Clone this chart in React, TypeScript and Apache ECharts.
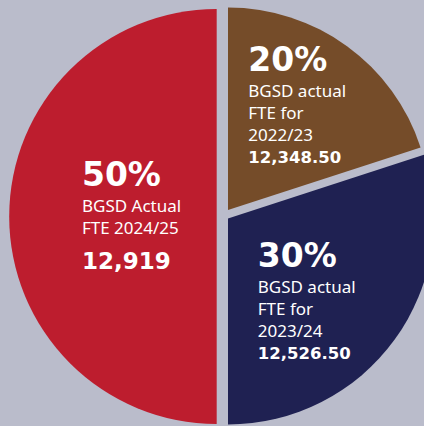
import React, { useEffect, useRef } from 'react';
import * as echarts from 'echarts';

const categories = ['2022/23', '2023/24', '2024/25'];
const shares = [20, 30, 50];
const fteValues = ['12,348.50', '12,526.50', '12,919'];
const descriptions = [
  ['BGSD actual', 'FTE for', '2022/23'],
  ['BGSD actual', 'FTE for', '2023/24'],
  ['BGSD Actual', 'FTE 2024/25'],
];
const colors = ['#754c29', '#1f2152', '#bd1d2e'];
const background = '#babccb';

// exploded-pie layout per slice (centre / radius of each slice, label shift)
const sliceLayout = [
  { center: [228, 210], radius: 202.5, dx: -41, dy: -86, valStyle: 'val' },
  { center: [228, 218.5], radius: 206, dx: -56, dy: -45, valStyle: 'val' },
  { center: [216.7, 216.5], radius: 207.5, dx: -28, dy: -62, valStyle: 'valL' },
];

const rich = {
  pct: { fontFamily: 'DejaVu Sans', fontWeight: 'bold', fontSize: 33, lineHeight: 40, color: '#ffffff' },
  txt: { fontFamily: 'Noto Sans', fontSize: 17, lineHeight: 22, color: '#ffffff' },
  val: { fontFamily: 'DejaVu Sans', fontWeight: 'bold', fontSize: 16.5, lineHeight: 24, color: '#ffffff' },
  valL: { fontFamily: 'DejaVu Sans', fontWeight: 'bold', fontSize: 23, lineHeight: 44, color: '#ffffff' },
};

export default function App() {
  const ref = useRef<HTMLDivElement>(null);
  useEffect(() => {
    document.body.style.margin = '0';
    if (!ref.current) return;
    const chart = echarts.init(ref.current, null, { renderer: 'svg' });
    const series = sliceLayout.map((lay, i) => ({
      type: 'pie',
      center: lay.center,
      radius: lay.radius,
      startAngle: 90,
      clockwise: true,
      silent: true,
      emphasis: { disabled: true },
      data: categories.map((c, j) => ({
        name: c,
        value: shares[j],
        itemStyle: { color: j === i ? colors[j] : 'rgba(0,0,0,0)', borderWidth: 0 },
        label: { show: j === i },
      })),
      label: {
        position: 'inside',
        color: '#ffffff',
        formatter: (p: any) =>
          `{pct|${p.value}%}\n` +
          descriptions[p.dataIndex].map((t) => `{txt|${t}}`).join('\n') +
          `\n{${lay.valStyle}|${fteValues[p.dataIndex]}}`,
        rich,
      },
      labelLine: { show: false },
      labelLayout: () => ({ dx: lay.dx, dy: lay.dy, align: 'left', verticalAlign: 'top' }),
    }));
    chart.setOption({
      animation: false,
      backgroundColor: background,
      series,
    });
    return () => chart.dispose();
  }, []);
  return <div ref={ref} style={{ width: 424, height: 426, background }} />;
}
